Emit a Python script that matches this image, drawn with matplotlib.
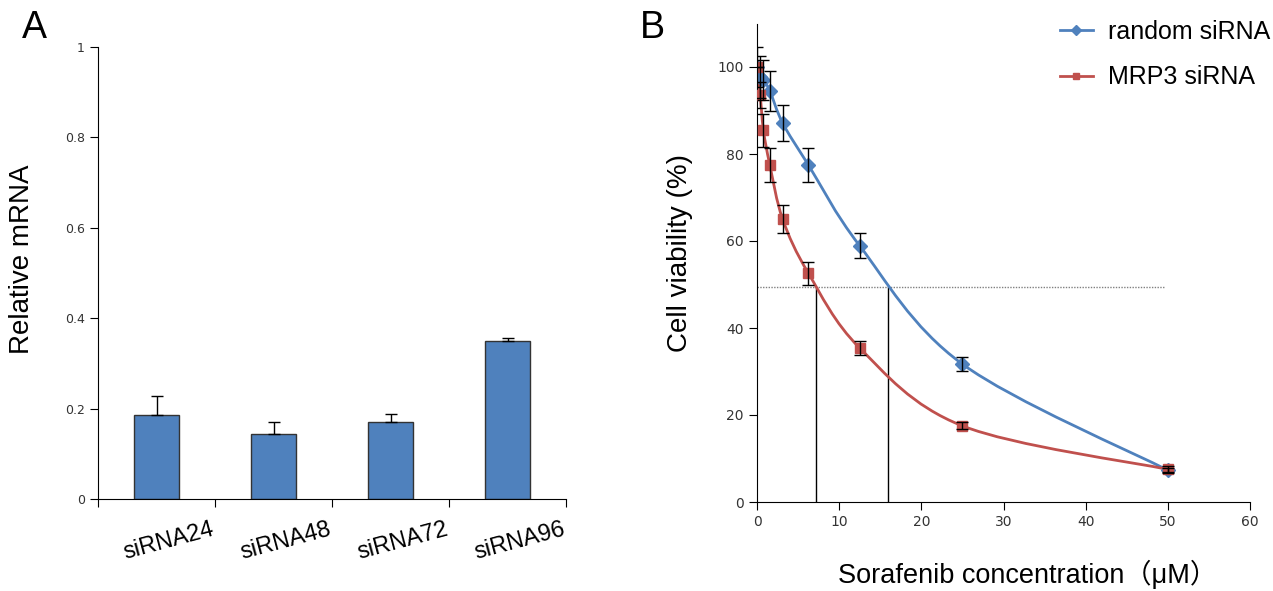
import numpy as np
import matplotlib.pyplot as plt
from matplotlib.path import Path
from matplotlib.patches import PathPatch
from matplotlib.lines import Line2D
import matplotlib.transforms as mtransforms

plt.rcParams['font.family'] = ['Liberation Sans', 'DejaVu Sans']

# panel A data
groups = ["siRNA24", "siRNA48", "siRNA72", "siRNA96"]
rel_mrna = [0.186, 0.144, 0.170, 0.350]
rel_err = [0.042, 0.027, 0.018, 0.007]

# panel B data
conc_random = [0, 0.39, 0.78, 1.56, 3.125, 6.25, 12.5, 25, 50]
via_random = [100, 97.7, 97.0, 94.5, 87.1, 77.5, 58.9, 31.7, 7.3]
err_random = [4.6, 4.8, 4.6, 4.5, 4.2, 3.9, 2.9, 1.6, 0.5]
conc_mrp3 = [0, 0.39, 0.78, 1.56, 3.125, 6.25, 12.5, 25, 50]
via_mrp3 = [100, 93.5, 85.5, 77.5, 65.0, 52.6, 35.4, 17.5, 7.5]
err_mrp3 = [0, 3.0, 3.8, 3.9, 3.2, 2.6, 1.7, 0.8, 0.8]
ic50_level = 49.5
ic50_mrp3 = 7.2
ic50_random = 15.9

blue = '#4F81BD'
red = '#C0504D'


def smooth_path(xs, ys):
    # Excel-like smoothed line: Catmull-Rom converted to cubic Bezier segments
    pts = np.column_stack([xs, ys]).astype(float)
    n = len(pts)
    verts = [pts[0]]
    codes = [Path.MOVETO]
    for i in range(n - 1):
        p0 = pts[i - 1] if i > 0 else pts[i]
        p1 = pts[i]
        p2 = pts[i + 1]
        p3 = pts[i + 2] if i + 2 < n else pts[i + 1]
        c1 = p1 + (p2 - p0) / 6.0
        c2 = p2 - (p3 - p1) / 6.0
        verts += [c1, c2, p2]
        codes += [Path.CURVE4] * 3
    return Path(verts, codes)


fig = plt.figure(figsize=(12.73, 5.91), dpi=100)

# ---------- panel A ----------
axA = fig.add_axes([98 / 1273, 1 - 499 / 591, 468 / 1273, 452 / 591])
xpos = np.arange(len(groups))
axA.bar(xpos, rel_mrna, width=0.39, color=blue, edgecolor='#333333', linewidth=1, zorder=2)
axA.errorbar(xpos, rel_mrna, yerr=[np.zeros(len(rel_err)), rel_err], fmt='none',
             ecolor='black', elinewidth=1, capsize=4, capthick=1, zorder=3)
axA.set_xlim(-0.5, len(groups) - 0.5)
axA.set_ylim(0, 1)
axA.set_yticks([0, 0.2, 0.4, 0.6, 0.8, 1])
axA.set_yticklabels(['0', '0.2', '0.4', '0.6', '0.8', '1'], family='DejaVu Sans', fontsize=9, color='#333333')
axA.set_xticks(np.arange(len(groups) + 1) - 0.5)
axA.set_xticklabels([])
axA.set_xticks(xpos, minor=True)
axA.set_xticklabels(groups, minor=True, rotation=15, fontsize=17)
axA.tick_params(axis='x', which='minor', length=0, pad=14)
axA.tick_params(axis='x', which='major', length=6, direction='out')
axA.tick_params(axis='y', length=6, direction='out')
offset = mtransforms.ScaledTranslation(12 / 100, 0, fig.dpi_scale_trans)
for lbl in axA.get_xticklabels(minor=True):
    lbl.set_transform(lbl.get_transform() + offset)
for s in ['top', 'right']:
    axA.spines[s].set_visible(False)
axA.set_ylabel('Relative mRNA', fontsize=20)
axA.yaxis.set_label_coords(-0.135, 0.53)
fig.text(22 / 1273, 1 - 28 / 591, 'A', fontsize=27, va='center', ha='left')

# ---------- panel B ----------
axB = fig.add_axes([757 / 1273, 1 - 502 / 591, 493 / 1273, 478.5 / 591])
axB.set_xlim(0, 60)
axB.set_ylim(0, 110)
axB.add_patch(PathPatch(smooth_path(conc_random, via_random), facecolor='none',
                        edgecolor=blue, linewidth=2, zorder=3))
axB.add_patch(PathPatch(smooth_path(conc_mrp3, via_mrp3), facecolor='none',
                        edgecolor=red, linewidth=2, zorder=3))
axB.plot(conc_random, via_random, linestyle='none', marker='D', markersize=7,
         color=blue, zorder=5)
axB.plot(conc_mrp3, via_mrp3, linestyle='none', marker='s', markersize=7.5,
         color=red, zorder=6)
axB.errorbar(conc_random, via_random, yerr=err_random, fmt='none', ecolor='black',
             elinewidth=1, capsize=4, capthick=1, zorder=7)
axB.errorbar(conc_mrp3, via_mrp3, yerr=err_mrp3, fmt='none', ecolor='black',
             elinewidth=1, capsize=4, capthick=1, zorder=7)
axB.plot([0, 49.6], [ic50_level, ic50_level], color='#808080', linewidth=1,
         linestyle=(0, (1, 1)), zorder=2)
axB.plot([ic50_mrp3, ic50_mrp3], [0, ic50_level], color='black', linewidth=1, zorder=2)
axB.plot([ic50_random, ic50_random], [0, ic50_level], color='black', linewidth=1, zorder=2)
axB.set_xticks(np.arange(0, 61, 10))
axB.set_yticks(np.arange(0, 101, 20))
for lbl in axB.get_xticklabels() + axB.get_yticklabels():
    lbl.set_family('DejaVu Sans')
    lbl.set_fontsize(10)
    lbl.set_color('#333333')
axB.tick_params(length=6, direction='out')
for s in ['top', 'right']:
    axB.spines[s].set_visible(False)
axB.set_ylabel('Cell viability (%)', fontsize=20)
axB.yaxis.set_label_coords(-0.13, 0.52)
axB.set_xlabel('Sorafenib concentration（μM）', fontsize=19.5,
               family=['Liberation Sans', 'Noto Sans CJK SC'])
axB.xaxis.set_label_coords(0.548, -0.12)
fig.text(640 / 1273, 1 - 28 / 591, 'B', fontsize=27, va='center', ha='left')

handles = [Line2D([], [], color=blue, marker='D', markersize=5, linewidth=2),
           Line2D([], [], color=red, marker='s', markersize=5, linewidth=2)]
fig.legend(handles, ['random siRNA', 'MRP3 siRNA'], loc='upper left',
           bbox_to_anchor=(1060 / 1273, 1 - 20 / 591), frameon=False, fontsize=18,
           handlelength=1.3, handletextpad=0.6, labelspacing=0.85, borderpad=0,
           borderaxespad=0)

fig.savefig('out.png', dpi=100)
